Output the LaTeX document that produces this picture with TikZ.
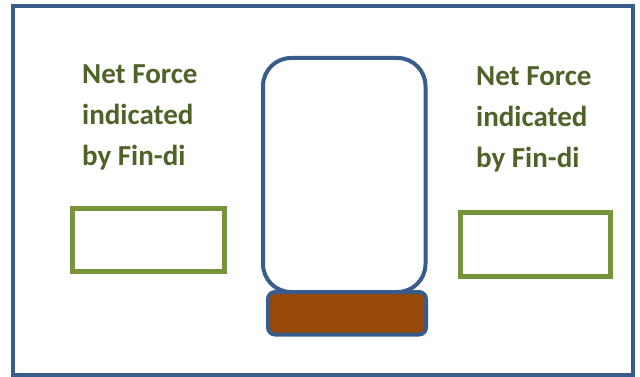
\documentclass[tikz,border=0pt]{standalone}
\usepackage{fontspec}
\setmainfont{Carlito}

\begin{document}
\begin{tikzpicture}[x=1pt,y=-1pt]
    % Define colours
    \definecolor{frameColour}{HTML}{385D8A}
    \definecolor{meterColour}{HTML}{77933C}
    \definecolor{labelColour}{HTML}{4F6228}
    \definecolor{baseColour}{HTML}{984807}

    % Styles for the labels and the reading boxes
    \tikzset{
      forceLabel/.style={anchor=base west, inner sep=0pt, align=left, text=labelColour,
        font=\fontsize{29}{41}\selectfont\bfseries},
      meterBox/.style={draw=meterColour, line width=5pt},
      jarLine/.style={draw=frameColour, line width=4pt}
    }

    % Macros for the jar position
    \def\jarLeft{263}   % left side of the jar
    \def\jarRight{425.5} % right side of the jar
    \def\jarTop{58}     % top of the jar
    \def\jarBottom{292} % bottom of the jar, hidden by the base

  % Fix the size of the picture
  \useasboundingbox (0,0) rectangle (640,377);

  % Draw the outer frame
  \draw[jarLine] (13,6) rectangle (633,375);

  % Draw the jar and its base
  \draw[jarLine, fill=white, rounded corners=28pt] (\jarLeft,\jarTop) rectangle (\jarRight,\jarBottom);
  \draw[jarLine, fill=baseColour, rounded corners=7pt] (268,\jarBottom) rectangle (426,334.5);

  % Draw the reading boxes
  \draw[meterBox] (72,208) rectangle (224,271);
  \draw[meterBox] (460.5,212.5) rectangle (610.5,276.5);

  % Labels above the reading boxes (anchored at the last line)
  \node[forceLabel] (leftLabel) at (82,166) {Net Force\\indicated\\by Fin-di};
  \node[forceLabel] (rightLabel) at (476,167.5) {Net Force\\indicated\\by Fin-di};

\end{tikzpicture}
\end{document}
